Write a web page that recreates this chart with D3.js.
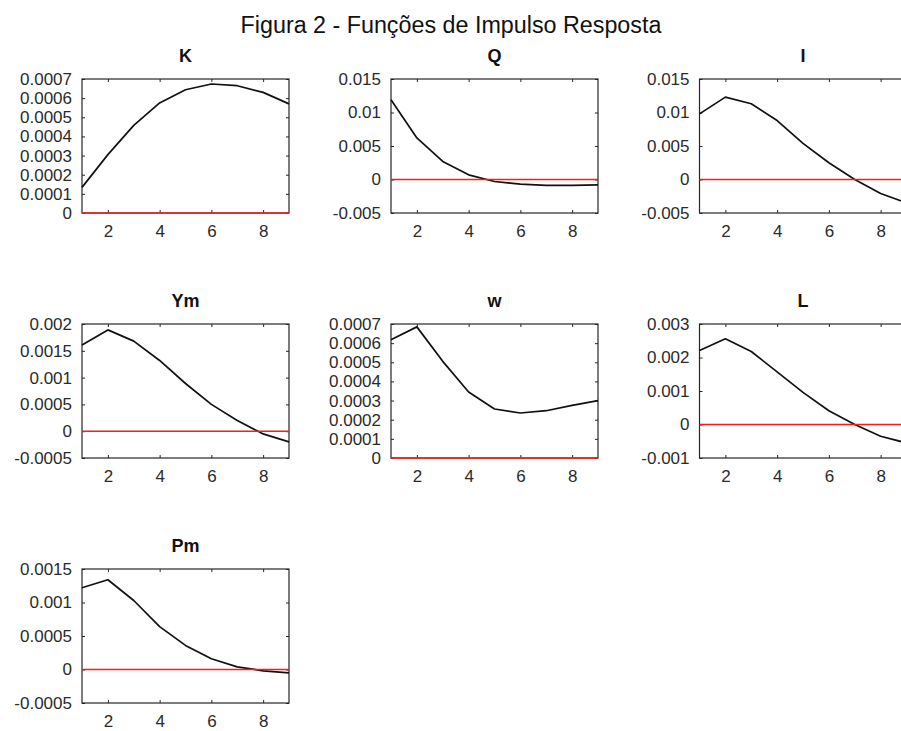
<!DOCTYPE html>
<html><head><meta charset="utf-8">
<script src="https://cdn.jsdelivr.net/npm/d3@7"></script>
<style>
html,body{margin:0;padding:0;background:#fff;}
svg{display:block;font-family:Arial,"Liberation Sans",Helvetica,sans-serif;}
</style></head>
<body>
<svg id="chart" width="901" height="731"></svg>
<script>
const figureTitle = "Figura 2 - Funções de Impulso Resposta";
const periods = [1, 2, 3, 4, 5, 6, 7, 8, 9];
const xTicks = [2, 4, 6, 8];

const panelNames = ["K", "Q", "I", "Ym", "w", "L", "Pm"];

const K  = [0.000134, 0.000305, 0.000458, 0.000575, 0.000644, 0.000674, 0.000665, 0.000630, 0.000570];
const Q  = [0.0119, 0.0062, 0.0027, 0.0007, -0.0003, -0.0007, -0.00087, -0.00087, -0.0008];
const I  = [0.0098, 0.0123, 0.0113, 0.0088, 0.0054, 0.0025, 0.0000, -0.0021, -0.0035];
const Ym = [0.00161, 0.00189, 0.00168, 0.00132, 0.00089, 0.00050, 0.00020, -0.00005, -0.00020];
const w  = [0.000618, 0.000685, 0.000505, 0.000345, 0.000256, 0.000235, 0.000247, 0.000275, 0.000300];
const L  = [0.00221, 0.00256, 0.00218, 0.00157, 0.00096, 0.00041, 0.0000, -0.00035, -0.00055];
const Pm = [0.00122, 0.00134, 0.00103, 0.00064, 0.00036, 0.00016, 0.00004, -0.00002, -0.00005];

const ticksK  = [0, 0.0001, 0.0002, 0.0003, 0.0004, 0.0005, 0.0006, 0.0007];
const ticksQ  = [-0.005, 0, 0.005, 0.01, 0.015];
const ticksI  = [-0.005, 0, 0.005, 0.01, 0.015];
const ticksYm = [-0.0005, 0, 0.0005, 0.001, 0.0015, 0.002];
const ticksW  = [0, 0.0001, 0.0002, 0.0003, 0.0004, 0.0005, 0.0006, 0.0007];
const ticksL  = [-0.001, 0, 0.001, 0.002, 0.003];
const ticksPm = [-0.0005, 0, 0.0005, 0.001, 0.0015];

const panelSeries = [K, Q, I, Ym, w, L, Pm];
const panelTicks = [ticksK, ticksQ, ticksI, ticksYm, ticksW, ticksL, ticksPm];

const svg = d3.select("#chart");
const fmt = d => d === 0 ? "0" : String(+d.toFixed(6));

const colLeft = [82, 391, 699.5];
const rowTop = [79, 324, 569];
const pw = 207, ph = 134;
const frameColor = "#262626";

svg.append("text")
  .attr("x", 451).attr("y", 33)
  .attr("text-anchor", "middle")
  .attr("font-size", 23.3)
  .attr("fill", "#111")
  .text(figureTitle);

panelNames.forEach((name, i) => {
  const col = i % 3, row = Math.floor(i / 3);
  const x0 = colLeft[col], y0 = rowTop[row];
  const ticks = panelTicks[i];
  const vals = panelSeries[i];
  const g = svg.append("g").attr("transform", `translate(${x0},${y0})`);
  const x = d3.scaleLinear().domain([1, 9]).range([0, pw]);
  const y = d3.scaleLinear().domain([ticks[0], ticks[ticks.length - 1]]).range([ph, 0]);

  // title
  g.append("text").attr("x", pw / 2).attr("y", -17)
    .attr("text-anchor", "middle").attr("font-weight", "bold")
    .attr("font-size", 18).attr("fill", "#111").text(name);

  // axes (inward ticks)
  const fs = 17;
  const yl = g.append("g").call(d3.axisLeft(y).tickValues(ticks).tickFormat(fmt).tickSizeInner(-3).tickSizeOuter(0).tickPadding(10));
  const xb = g.append("g").attr("transform", `translate(0,${ph})`)
    .call(d3.axisBottom(x).tickValues(xTicks).tickFormat(d3.format("d")).tickSizeInner(-3).tickSizeOuter(0).tickPadding(12));
  const yr = g.append("g").attr("transform", `translate(${pw},0)`)
    .call(d3.axisRight(y).tickValues(ticks).tickFormat("").tickSizeInner(-3).tickSizeOuter(0));
  const xt = g.append("g")
    .call(d3.axisTop(x).tickValues(xTicks).tickFormat("").tickSizeInner(-3).tickSizeOuter(0));
  [yl, xb, yr, xt].forEach(a => {
    a.select(".domain").remove();
    a.selectAll(".tick line").attr("stroke", frameColor).attr("stroke-width", 1);
    a.selectAll(".tick text").attr("fill", "#2b2b2b").attr("font-size", fs)
      .attr("font-family", "Arial, 'Liberation Sans', sans-serif");
  });
  xb.selectAll(".tick text").attr("dy", "0.71em");

  // frame
  g.append("rect").attr("x", 0).attr("y", 0).attr("width", pw).attr("height", ph)
    .attr("fill", "none").attr("stroke", frameColor).attr("stroke-width", 1.2);

  // data line
  const line = d3.line().x((d, j) => x(periods[j])).y(d => y(d));
  g.append("path").datum(vals).attr("d", line)
    .attr("fill", "none").attr("stroke", "#111").attr("stroke-width", 1.7)
    .attr("stroke-linejoin", "round");

  // zero line
  g.append("line").attr("x1", x(1)).attr("x2", x(9))
    .attr("y1", y(0)).attr("y2", y(0))
    .attr("stroke", "#ff1a1a").attr("stroke-width", 1.6);
});
</script>
</body></html>
